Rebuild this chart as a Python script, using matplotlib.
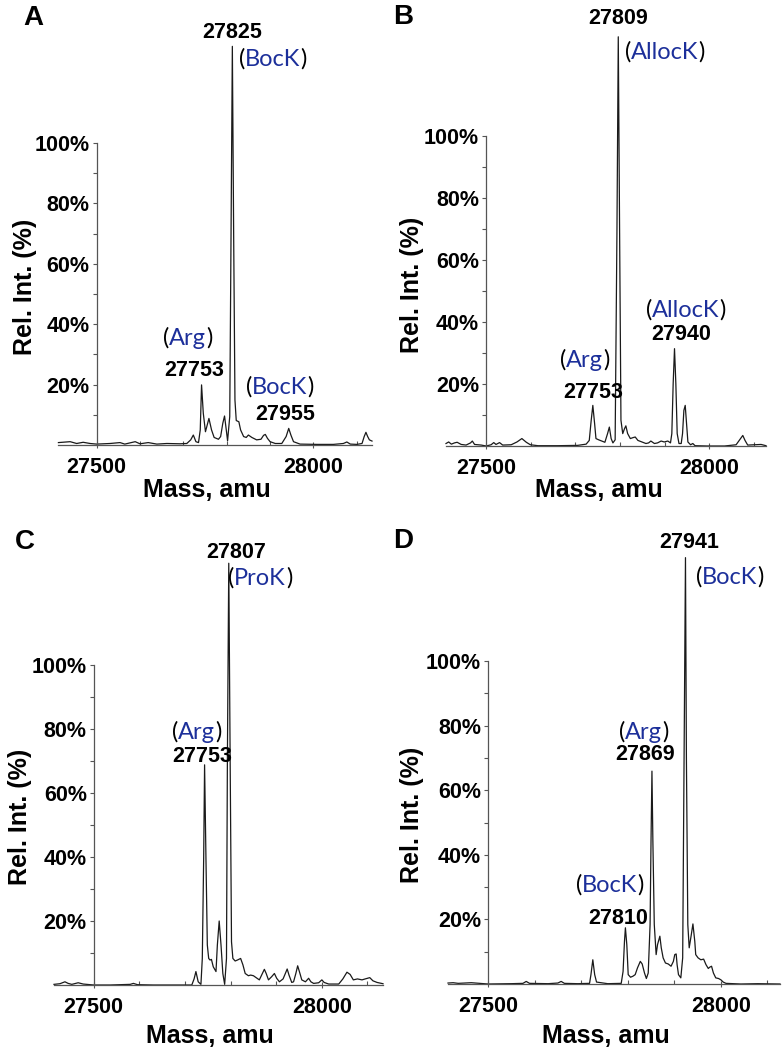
import numpy as np
import matplotlib
matplotlib.use("Agg")
import matplotlib.pyplot as plt
from matplotlib.ticker import MultipleLocator, FixedLocator

W, H = 782, 1050

# ---- spectra (mass in amu, relative intensity in %) ----
mass_a = [27412, 27439, 27454, 27469, 27485, 27500, 27531, 27554, 27565, 27589,
          27600, 27619, 27639, 27662, 27692, 27708, 27717, 27723, 27729, 27735,
          27739, 27742, 27746, 27751, 27755, 27759, 27765, 27771, 27781, 27786,
          27791, 27795, 27799, 27802, 27807, 27810, 27813, 27816, 27819, 27822,
          27828, 27832, 27839, 27845, 27850, 27858, 27869, 27879, 27885, 27889,
          27894, 27900, 27912, 27927, 27937, 27943, 27948, 27954, 27969, 28008,
          28046, 28069, 28077, 28085, 28100, 28112, 28117, 28121, 28125, 28129,
          28135]
int_a = [0.8, 1.1, 0.5, 0.9, 0.5, 0.3, 0.5, 0.8, 0.3, 1.1,
         0.4, 0.8, 0.3, 0.5, 0.4, 0.5, 1.7, 3.3, 1.1, 0.8,
         5.0, 19.9, 10.5, 4.4, 6.6, 8.8, 5.0, 2.5, 1.9, 2.8,
         7.2, 9.6, 5.0, 1.4, 9.4, 70.0, 132.0, 70.0, 14.9, 8.1,
         7.7, 5.0, 2.8, 2.5, 3.3, 2.5, 1.7, 1.9, 3.2, 3.5,
         2.2, 1.1, 0.5, 0.5, 2.8, 5.5, 3.3, 1.1, 0.3, 0.2,
         0.2, 0.5, 1.0, 0.3, 0.2, 0.5, 2.8, 4.2, 2.8, 1.7,
         1.3]

mass_b = [27410, 27416, 27422, 27429, 27435, 27444, 27455, 27465, 27469, 27474,
          27489, 27500, 27511, 27517, 27522, 27530, 27537, 27556, 27569, 27580,
          27590, 27599, 27616, 27660, 27705, 27724, 27731, 27735, 27739, 27743,
          27746, 27752, 27759, 27766, 27772, 27776, 27780, 27784, 27789, 27793,
          27796, 27799, 27802, 27806, 27810, 27813, 27817, 27823, 27829, 27834,
          27840, 27849, 27858, 27864, 27869, 27877, 27884, 27892, 27899, 27907,
          27913, 27916, 27919, 27922, 27925, 27928, 27932, 27937, 27940, 27943,
          27946, 27949, 27952, 27958, 27963, 27968, 27996, 28034, 28060, 28067,
          28075, 28080, 28086, 28101, 28116, 28127]
int_b = [0.8, 1.3, 0.6, 1.0, 1.2, 0.5, 0.3, 1.0, 1.6, 0.5,
         0.3, 0.0, 0.4, 1.1, 0.5, 1.1, 0.3, 0.4, 1.3, 2.4,
         1.2, 0.4, 0.1, 0.1, 0.2, 0.6, 1.8, 7.8, 13.1, 7.2,
         2.4, 2.0, 1.6, 1.2, 4.0, 6.1, 2.4, 1.0, 2.0, 68.6,
         132.0, 68.6, 8.3, 4.0, 5.6, 6.5, 4.0, 2.4, 2.7, 2.9,
         1.8, 1.3, 0.8, 1.0, 1.6, 0.8, 1.0, 1.6, 1.3, 1.6,
         1.0, 4.0, 20.1, 31.4, 20.1, 4.0, 0.8, 0.8, 4.0, 11.5,
         13.1, 7.2, 1.3, 0.4, 0.8, 0.1, 0.0, 0.0, 0.4, 1.8,
         3.4, 1.8, 0.3, 0.4, 0.5, 0.1]

mass_c = [27413, 27426, 27437, 27444, 27452, 27466, 27477, 27500, 27536, 27580,
          27587, 27596, 27631, 27675, 27715, 27720, 27724, 27729, 27735, 27738,
          27741, 27743, 27746, 27749, 27752, 27755, 27758, 27762, 27768, 27771,
          27775, 27779, 27783, 27787, 27791, 27793, 27796, 27799, 27802, 27805,
          27810, 27815, 27822, 27827, 27832, 27839, 27844, 27850, 27856, 27863,
          27868, 27874, 27878, 27883, 27890, 27896, 27901, 27907, 27915, 27920,
          27924, 27928, 27934, 27938, 27943, 27947, 27952, 27956, 27964, 27971,
          27976, 27982, 27993, 28000, 28005, 28015, 28037, 28046, 28055, 28062,
          28069, 28078, 28088, 28095, 28105, 28112, 28121, 28134]
int_c = [0.2, 0.4, 1.0, 0.5, 0.2, 0.7, 0.3, 0.0, 0.0, 0.2,
         0.5, 0.1, 0.0, 0.0, 0.0, 1.9, 4.2, 1.0, 0.2, 8.3,
         39.6, 68.8, 39.6, 12.5, 8.3, 7.8, 8.0, 5.7, 4.2, 12.5,
         20.0, 12.5, 3.6, 0.2, 8.3, 70.8, 131.8, 70.8, 13.5, 8.3,
         7.5, 7.8, 8.3, 6.3, 3.6, 2.9, 3.1, 2.9, 2.3, 1.6,
         3.1, 4.9, 3.6, 1.6, 2.6, 3.6, 2.1, 1.0, 1.9, 3.6,
         5.0, 3.1, 0.8, 1.0, 3.6, 6.0, 3.6, 1.6, 1.0, 2.1,
         1.0, 0.5, 0.7, 1.6, 0.8, 0.3, 0.3, 1.9, 4.0, 3.3,
         1.6, 1.9, 1.6, 1.9, 2.3, 1.3, 0.8, 0.4]

mass_d = [27414, 27425, 27436, 27464, 27500, 27550, 27575, 27582, 27589, 27629,
          27650, 27657, 27664, 27693, 27718, 27721, 27725, 27729, 27733, 27757,
          27786, 27790, 27793, 27795, 27798, 27801, 27806, 27811, 27816, 27821,
          27827, 27831, 27836, 27840, 27844, 27848, 27850, 27852, 27854, 27857,
          27861, 27864, 27869, 27872, 27876, 27881, 27887, 27893, 27898, 27901,
          27904, 27906, 27909, 27914, 27918, 27921, 27924, 27926, 27929, 27932,
          27936, 27940, 27944, 27946, 27951, 27957, 27963, 27968, 27973, 27976,
          27980, 27984, 27989, 27995, 28000, 28005, 28011, 28043, 28079, 28127]
int_d = [0.3, 0.4, 0.2, 0.4, 0.0, 0.1, 0.2, 0.8, 0.2, 0.1,
         0.3, 0.8, 0.2, 0.1, 0.2, 2.9, 7.5, 2.9, 0.6, 0.1,
         0.2, 3.9, 13.2, 17.4, 12.2, 2.9, 2.1, 2.4, 2.9, 5.0,
         7.0, 6.2, 3.4, 1.7, 3.4, 18.4, 44.2, 65.9, 44.2, 18.4,
         9.1, 12.2, 14.8, 11.2, 8.1, 6.5, 6.2, 5.5, 7.0, 9.1,
         9.3, 6.0, 2.9, 1.9, 8.1, 70.0, 132.0, 70.0, 18.4, 11.2,
         14.8, 18.6, 13.2, 9.1, 8.1, 7.5, 7.7, 6.0, 4.8, 5.2,
         5.5, 3.4, 1.9, 1.7, 1.3, 0.6, 0.2, 0.0, 0.1, 0.0]

y_ticks = [20, 40, 60, 80, 100]
x_ticks = [27500, 28000]
panel_letters = ["A", "B", "C", "D"]

# peak labels: (number, x_px, y_px)  and  (tag, left_x_px, y_px)
numbers = [
    [("27825", 232, 32), ("27753", 194, 371), ("27955", 285, 414)],
    [("27809", 618, 18), ("27940", 681, 334), ("27753", 593, 393)],
    [("27807", 236, 553), ("27753", 202, 757)],
    [("27941", 689, 542), ("27869", 645, 755), ("27810", 618, 918)],
]
tags = [
    [("BocK", 239, 59), ("Arg", 163, 338), ("BocK", 246, 387)],
    [("AllocK", 625, 52), ("AllocK", 646, 310), ("Arg", 560, 360)],
    [("ProK", 228, 578), ("Arg", 172, 732)],
    [("BocK", 696, 577), ("Arg", 619, 732), ("BocK", 576, 885)],
]

# axes geometry in pixels: left, right, bottom, px per %, xlim
geom = [
    (58, 372, 445, 3.02, (27411, 28135)),
    (446, 766, 446, 3.10, (27410, 28127)),
    (54, 383, 985, 3.20, (27413, 28134)),
    (448, 780, 984, 3.23, (27414, 28127)),
]
ylabel_pos = [(37, 287), (424, 285), (32, 817), (424, 815)]
xlabel_pos = [(207, 478), (599, 478), (210, 1024), (606, 1024)]
letter_pos = [(33, 18), (403, 17), (25, 542), (403, 541)]

masses = [mass_a, mass_b, mass_c, mass_d]
intens = [int_a, int_b, int_c, int_d]

num_font = "Liberation Sans"
tag_font = "Lato"
blue = "#1c2f9a"

fig = plt.figure(figsize=(W / 100, H / 100), dpi=100)


def fig_xy(x, y):
    return x / W, 1 - y / H


for i in range(4):
    L, R, B, s, xl = geom[i]
    ax = fig.add_axes([L / W, 1 - B / H, (R - L) / W, 140 * s / H])
    ax.patch.set_alpha(0)
    ax.plot(masses[i], intens[i], color="#1a1a1a", lw=0.9, clip_on=False)
    ax.set_xlim(*xl)
    ax.set_ylim(0, 140)

    for side in ["top", "right"]:
        ax.spines[side].set_visible(False)
    ax.spines["left"].set_position(("data", 27500))
    ax.spines["left"].set_bounds(0, 100)
    for side in ["left", "bottom"]:
        ax.spines[side].set_color("#555555")
        ax.spines[side].set_linewidth(0.9)

    ax.yaxis.set_major_locator(FixedLocator(y_ticks))
    ax.yaxis.set_minor_locator(FixedLocator([10, 30, 50, 70, 90]))
    ax.set_yticklabels(["%d%%" % v for v in y_ticks])
    ax.xaxis.set_major_locator(FixedLocator(x_ticks))
    ax.xaxis.set_minor_locator(MultipleLocator(100))
    ax.set_xticklabels([str(v) for v in x_ticks])

    ax.tick_params(axis="y", which="both", direction="out", length=3,
                   width=0.8, color="#555555", pad=2)
    ax.tick_params(axis="x", which="major", direction="inout", length=5,
                   width=0.8, color="#555555", pad=6)
    ax.tick_params(axis="x", which="minor", direction="in", length=3,
                   width=0.8, color="#555555")
    for lab in ax.get_yticklabels() + ax.get_xticklabels():
        lab.set_fontfamily(num_font)
        lab.set_fontweight("bold")
        lab.set_fontsize(15.5)

    ax.set_ylabel("Rel. Int. (%)", fontfamily=num_font, fontweight="bold",
                  fontsize=18)
    ax.yaxis.set_label_coords(*fig_xy(*ylabel_pos[i]), transform=fig.transFigure)
    ax.set_xlabel("Mass, amu", fontfamily=num_font, fontweight="bold",
                  fontsize=18)
    ax.xaxis.set_label_coords(*fig_xy(*xlabel_pos[i]), transform=fig.transFigure)

    fig.text(*fig_xy(*letter_pos[i]), panel_letters[i], ha="center",
             va="center", fontfamily=num_font, fontweight="bold", fontsize=20)

    for txt, x, y in numbers[i]:
        fig.text(*fig_xy(x, y), txt, ha="center", va="center",
                 fontfamily=num_font, fontweight="bold", fontsize=15.5)

    for word, x, y in tags[i]:
        t1 = ax.annotate("(", xy=fig_xy(x, y), xycoords="figure fraction",
                         ha="left", va="center", fontfamily=tag_font,
                         fontsize=17, color="black")
        t2 = ax.annotate(word, xy=(1, 0), xycoords=t1, ha="left", va="bottom",
                         fontfamily=tag_font, fontsize=17, color=blue)
        ax.annotate(")", xy=(1, 0), xycoords=t2, ha="left", va="bottom",
                    fontfamily=tag_font, fontsize=17, color="black")

fig.savefig("out.png", dpi=100)
